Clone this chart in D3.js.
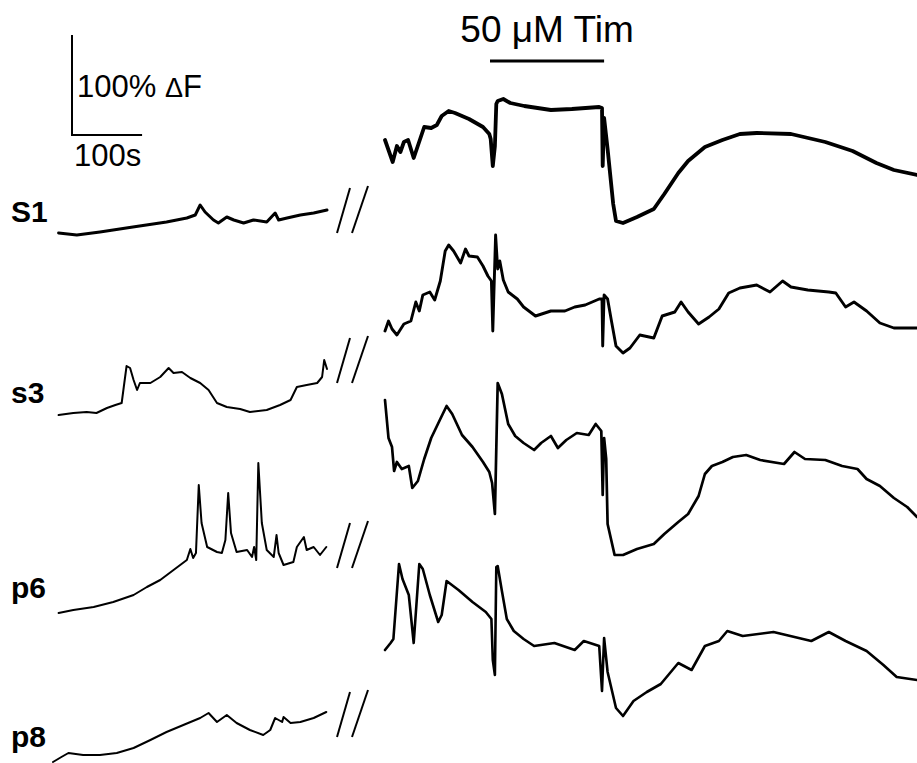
<!DOCTYPE html>
<html lang="en">
<head>
  <meta charset="UTF-8">
  <title>Timolol calcium traces</title>
  <style>
    body {
      background-color: #ffffff;
      margin: 0;
      padding: 0;
    }
    svg {
      display: block;
    }
    text {
      font-family: "Liberation Sans", Arial, sans-serif;
      fill: #000;
    }
    .trace {
      fill: none;
      stroke: #000;
      stroke-linejoin: round;
      stroke-linecap: round;
    }
  </style>
</head>
<body>
<div id="chart"></div>
<script src="https://d3js.org/d3.v7.min.js"></script>
<script>
  // cell labels, top to bottom
  const cellNames = ["S1", "s3", "p6", "p8"];

  // [time (s), dF (%)] before the break
  const s1Before = [[8,0],[34,-2],[67,1],[114,6],[162,11],[191,15],[203,18],[210,28],[217,21],[229,13],[236,10],
    [248,16],[258,13],[272,10],[286,13],[305,11],[317,20],[322,13],[334,15],[353,18],[372,20],[391,23]];
  const s3Before = [[8,0],[29,2],[48,3],[62,2],[77,7],[89,10],[98,12],[101,28],[105,49],[110,47],[115,35],[120,25],
    [124,32],[139,32],[153,38],[165,47],[172,42],[184,43],[196,37],[210,32],[222,25],[234,12],[248,8],[267,6],
    [281,3],[305,5],[324,10],[339,15],[348,28],[362,30],[377,32],[384,38],[387,55],[391,46]];
  const p6Before = [[8,0],[29,3],[58,6],[86,11],[115,18],[134,26],[153,33],[172,43],[191,53],[196,64],[200,55],
    [204,60],[208,128],[212,90],[220,66],[234,61],[241,60],[246,73],[250,120],[254,80],[262,61],[277,63],[284,56],
    [287,66],[290,53],[293,150],[298,90],[305,63],[315,56],[319,78],[322,60],[329,48],[343,51],[348,66],[358,76],
    [362,63],[372,66],[381,58],[390,66]];
  const p8Before = [[0,-6],[12,-1],[22,3],[43,1],[67,1],[91,3],[115,8],[139,16],[162,24],[186,31],[210,38],[222,43],
    [234,34],[248,41],[262,33],[281,26],[300,21],[310,26],[317,38],[327,34],[329,39],[339,33],[353,34],[372,38],[390,44]];

  // [time (s), dF (%)] after the break, with timolol
  const s1After = [[0,93],[11,71],[17,87],[22,81],[27,91],[33,93],[41,75],[56,106],[66,105],[74,108],[81,117],
    [91,122],[100,120],[120,114],[140,106],[149,99],[151,94],[154,67],[157,87],[159,129],[161,132],[169,134],
    [179,130],[199,127],[237,123],[267,124],[306,126],[310,125],[311,67],[313,115],[318,84],[326,29],[330,12],
    [340,10],[360,16],[384,24],[399,39],[419,60],[433,72],[457,86],[482,93],[507,99],[531,100],[580,99],[629,91],
    [668,82],[702,70],[727,63],[760,58]];
  const s3After = [[0,84],[5,94],[10,86],[17,80],[27,91],[37,94],[44,113],[49,104],[54,120],[64,123],[71,115],
    [79,134],[86,164],[91,170],[98,164],[108,152],[115,166],[120,159],[132,158],[140,149],[147,139],[152,134],
    [154,84],[158,180],[161,146],[164,154],[169,135],[176,123],[189,116],[198,108],[215,99],[237,104],[257,104],
    [271,108],[286,110],[306,116],[310,116],[311,69],[313,120],[318,116],[323,96],[330,69],[340,62],[350,67],
    [364,80],[384,77],[396,99],[414,103],[423,113],[433,103],[448,91],[463,98],[477,106],[491,122],[507,127],
    [531,130],[550,123],[568,134],[580,128],[604,125],[634,123],[644,122],[658,108],[670,113],[688,104],[707,92],
    [727,87],[760,87]];
  const p6After = [[0,213],[5,175],[10,166],[13,142],[17,151],[24,144],[34,147],[39,125],[47,132],[56,154],
    [66,175],[79,194],[88,207],[96,199],[110,178],[125,166],[140,151],[149,141],[153,130],[157,99],[161,230],
    [167,219],[176,189],[186,177],[198,170],[213,163],[223,170],[237,177],[247,165],[259,173],[274,180],[291,178],
    [301,189],[309,182],[311,118],[313,175],[316,154],[318,89],[328,58],[340,58],[360,64],[384,69],[399,79],
    [419,91],[433,99],[448,117],[457,139],[467,147],[482,151],[497,156],[516,158],[536,153],[570,149],[585,161],
    [600,154],[629,153],[653,147],[675,144],[688,134],[707,127],[727,115],[746,106],[760,96]];
  const p8After = [[0,106],[8,113],[12,117],[20,192],[25,177],[34,161],[41,113],[49,192],[54,187],[64,161],
    [76,134],[81,141],[88,175],[105,166],[125,154],[144,144],[152,137],[154,96],[157,81],[159,189],[161,190],
    [167,165],[174,137],[184,125],[198,117],[213,110],[242,113],[271,106],[284,115],[306,110],[310,65],[313,118],
    [318,84],[330,48],[340,40],[355,55],[374,64],[394,72],[419,93],[438,86],[457,110],[477,115],[489,125],
    [511,120],[555,124],[609,115],[634,124],[658,115],[688,105],[712,91],[731,79],[760,76]];

  // drug application window (s, after-break time)
  const timOn = 150;
  const timOff = 313;
  const drugLabel = "50 \u03bcM Tim";

  // scale bar sizes
  const barTime = 100;
  const barDF = 100;

  const width = 917;
  const height = 763;

  const svg = d3.select("#chart").append("svg")
    .attr("width", width)
    .attr("height", height);

  // same seconds-per-pixel on both sides of the break
  const xBefore = d3.scaleLinear().domain([0, 391]).range([53, 327]);
  const xAfter = d3.scaleLinear().domain([0, 760]).range([385, 917]);
  const dy = d3.scaleLinear().domain([0, 100]).range([0, -100]);

  const rowBase = [233, 415, 613, 756];
  const labelY = [222, 403, 598, 747];
  const breakY = [233, 383, 568, 737];
  const beforeWidth = [3, 2, 2, 2];
  const afterWidth = [3.8, 2.9, 2.7, 2.6];

  const traces = [
    [s1Before, s1After],
    [s3Before, s3After],
    [p6Before, p6After],
    [p8Before, p8After]
  ];

  traces.forEach(([before, after], i) => {
    const g = svg.append("g").attr("transform", `translate(0,${rowBase[i]})`);

    const lineBefore = d3.line().x(d => xBefore(d[0])).y(d => dy(d[1]));
    const lineAfter = d3.line().x(d => xAfter(d[0])).y(d => dy(d[1]));

    g.append("path").attr("class", "trace")
      .attr("stroke-width", beforeWidth[i])
      .attr("d", lineBefore(before));
    g.append("path").attr("class", "trace")
      .attr("stroke-width", afterWidth[i])
      .attr("d", lineAfter(after));

    svg.append("text")
      .attr("x", 11)
      .attr("y", labelY[i])
      .attr("font-size", 30)
      .attr("font-weight", "bold")
      .text(cellNames[i]);

    // break marks
    const b = breakY[i];
    svg.append("line").attr("x1", 337).attr("y1", b).attr("x2", 350).attr("y2", b - 45)
      .attr("stroke", "#000").attr("stroke-width", 2);
    svg.append("line").attr("x1", 352).attr("y1", b).attr("x2", 368).attr("y2", b - 47)
      .attr("stroke", "#000").attr("stroke-width", 2);
  });

  // scale bar
  const sbX = 72;
  const sbY = 135;
  const sbLen = xBefore(barTime) - xBefore(0);
  svg.append("path")
    .attr("d", `M${sbX},${sbY + dy(barDF)}V${sbY}H${sbX + sbLen}`)
    .attr("fill", "none")
    .attr("stroke", "#000")
    .attr("stroke-width", 2);
  const dfText = svg.append("text")
    .attr("x", sbX + 5)
    .attr("y", 97)
    .attr("font-size", 31);
  dfText.append("tspan").text(`${barDF}% `);
  dfText.append("tspan").attr("font-size", 27).text("\u0394");
  dfText.append("tspan").text("F");
  svg.append("text")
    .attr("x", sbX + 2)
    .attr("y", 166)
    .attr("font-size", 31)
    .text(`${barTime}s`);

  // drug bar
  svg.append("line")
    .attr("x1", xAfter(timOn))
    .attr("x2", xAfter(timOff))
    .attr("y1", 61)
    .attr("y2", 61)
    .attr("stroke", "#000")
    .attr("stroke-width", 3);
  svg.append("text")
    .attr("x", (xAfter(timOn) + xAfter(timOff)) / 2)
    .attr("y", 42)
    .attr("text-anchor", "middle")
    .attr("font-size", 37)
    .text(drugLabel);
</script>
</body>
</html>
